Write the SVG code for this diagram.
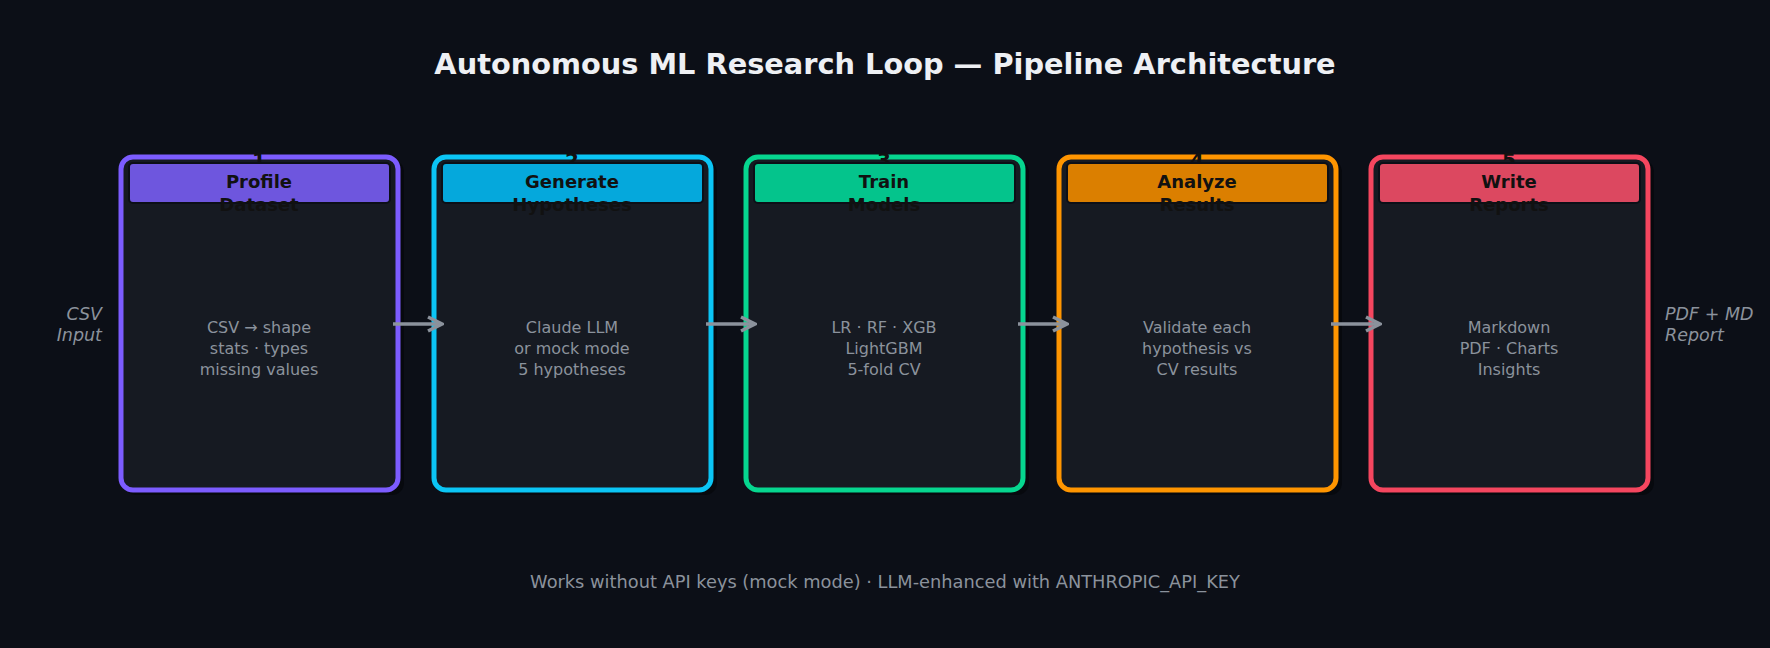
<svg xmlns="http://www.w3.org/2000/svg" width="1770" height="648" viewBox="0 0 1770 648">
<defs>
<style>
.t{font-family:"DejaVu Sans",sans-serif}
.box{fill:#161a22;stroke-width:5}
.sh{fill:#06080c;opacity:.8}
.hd{stroke:#0c0f17;stroke-width:2}
.num{font:bold 20px "DejaVu Sans",sans-serif;fill:#111;text-anchor:middle}
.ttl{font:bold 18px "DejaVu Sans",sans-serif;fill:#111;text-anchor:middle}
.body{font:16px "DejaVu Sans",sans-serif;fill:#8b929c;text-anchor:middle}
.side{font:italic 17.5px "DejaVu Sans",sans-serif;fill:#8b929c}
.arr{stroke:#8b929c;stroke-width:3.5;fill:none}
</style>
<marker id="ah" viewBox="0 0 10 10" refX="9" refY="5" markerWidth="5" markerHeight="5" orient="auto" markerUnits="strokeWidth"><path d="M1,1 L9,5 L1,9" fill="none" stroke="#8b929c" stroke-width="2"/></marker>
</defs>
<rect width="1770" height="648" fill="#0c0f17"/>
<text class="t" x="885" y="74" font-size="28.8" font-weight="bold" fill="#eef0f4" text-anchor="middle">Autonomous ML Research Loop — Pipeline Architecture</text>
<g id="n1"><rect class="sh" x="124" y="160" width="280" height="335" rx="12"/><rect class="box" x="121" y="157" width="277" height="333" rx="12" stroke="#7c5cff"/><text class="num" x="259" y="167">1</text><rect class="hd" x="129" y="163" width="261" height="40" rx="4" fill="#6e56de"/><text class="ttl" x="259" y="188">Profile</text><text class="ttl" x="259" y="211">Dataset</text><text class="body"><tspan x="259" y="333">CSV → shape</tspan><tspan x="259" y="354">stats · types</tspan><tspan x="259" y="375">missing values</tspan></text></g>
<g id="n2"><rect class="sh" x="437" y="160" width="280" height="335" rx="12"/><rect class="box" x="434" y="157" width="277" height="333" rx="12" stroke="#0bc5f5"/><text class="num" x="572" y="167">2</text><rect class="hd" x="442" y="163" width="261" height="40" rx="4" fill="#05a8dc"/><text class="ttl" x="572" y="188">Generate</text><text class="ttl" x="572" y="211">Hypotheses</text><text class="body"><tspan x="572" y="333">Claude LLM</tspan><tspan x="572" y="354">or mock mode</tspan><tspan x="572" y="375">5 hypotheses</tspan></text></g>
<g id="n3"><rect class="sh" x="749" y="160" width="280" height="335" rx="12"/><rect class="box" x="746" y="157" width="277" height="333" rx="12" stroke="#06d68f"/><text class="num" x="884" y="167">3</text><rect class="hd" x="754" y="163" width="261" height="40" rx="4" fill="#04c48c"/><text class="ttl" x="884" y="188">Train</text><text class="ttl" x="884" y="211">Models</text><text class="body"><tspan x="884" y="333">LR · RF · XGB</tspan><tspan x="884" y="354">LightGBM</tspan><tspan x="884" y="375">5-fold CV</tspan></text></g>
<g id="n4"><rect class="sh" x="1062" y="160" width="280" height="335" rx="12"/><rect class="box" x="1059" y="157" width="277" height="333" rx="12" stroke="#ff9500"/><text class="num" x="1197" y="167">4</text><rect class="hd" x="1067" y="163" width="261" height="40" rx="4" fill="#db7f00"/><text class="ttl" x="1197" y="188">Analyze</text><text class="ttl" x="1197" y="211">Results</text><text class="body"><tspan x="1197" y="333">Validate each</tspan><tspan x="1197" y="354">hypothesis vs</tspan><tspan x="1197" y="375">CV results</tspan></text></g>
<g id="n5"><rect class="sh" x="1374" y="160" width="280" height="335" rx="12"/><rect class="box" x="1371" y="157" width="277" height="333" rx="12" stroke="#f5465f"/><text class="num" x="1509" y="167">5</text><rect class="hd" x="1379" y="163" width="261" height="40" rx="4" fill="#dc4860"/><text class="ttl" x="1509" y="188">Write</text><text class="ttl" x="1509" y="211">Reports</text><text class="body"><tspan x="1509" y="333">Markdown</tspan><tspan x="1509" y="354">PDF · Charts</tspan><tspan x="1509" y="375">Insights</tspan></text></g>
<g id="connectors">
<line class="arr" x1="393" y1="324" x2="442" y2="324" marker-end="url(#ah)"/>
<line class="arr" x1="706" y1="324" x2="755" y2="324" marker-end="url(#ah)"/>
<line class="arr" x1="1018" y1="324" x2="1067" y2="324" marker-end="url(#ah)"/>
<line class="arr" x1="1331" y1="324" x2="1380" y2="324" marker-end="url(#ah)"/>
</g>
<text class="side" text-anchor="end"><tspan x="102" y="320">CSV</tspan><tspan x="102" y="341">Input</tspan></text>
<text class="side"><tspan x="1665" y="320">PDF + MD</tspan><tspan x="1665" y="341">Report</tspan></text>
<text class="t" x="885" y="588" font-size="17.8" fill="#8b929c" text-anchor="middle">Works without API keys (mock mode) · LLM-enhanced with ANTHROPIC_API_KEY</text>
</svg>
